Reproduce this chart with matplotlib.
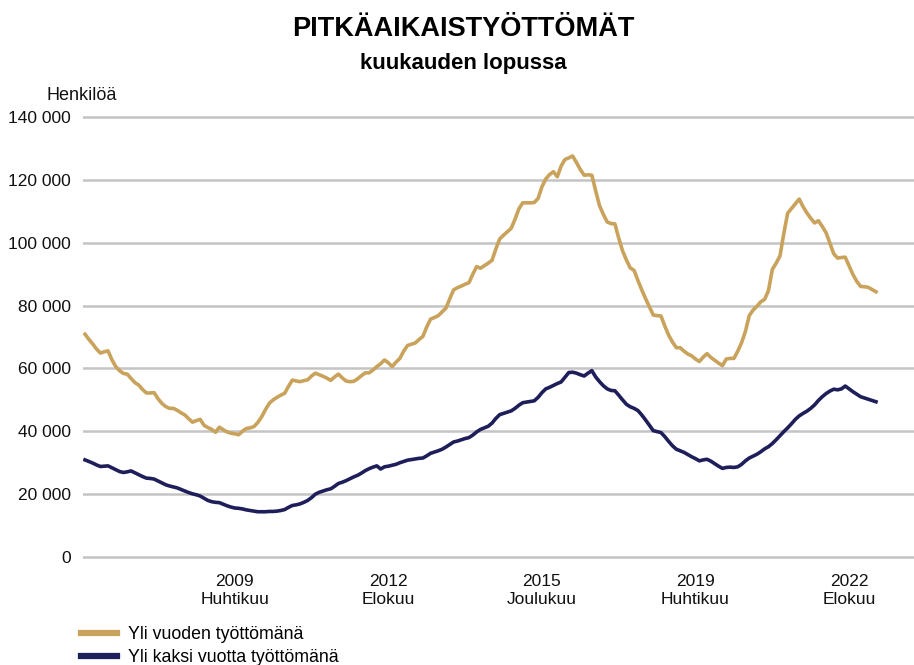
#Pitkäaikaistyöttömät kuukauden lopussa, tammikuu 2006 - maaliskuu 2023
import numpy as np
import pandas as pd
import matplotlib
matplotlib.use('Agg')
import matplotlib.pyplot as plt
from matplotlib.ticker import FuncFormatter

#kuukaudet
months = pd.date_range('2006-01-01', '2023-03-01', freq='MS')

#yli vuoden työttömänä (tuhatta henkilöä)
over_one_year = [
    70.9, 69.3, 67.8, 66.2, 64.9, 65.3, 65.6, 62.8, 60.6, 59.3, 58.4, 58.2,
    56.8, 55.5, 54.7, 53.3, 52.2, 52.2, 52.3, 50.4, 48.9, 47.9, 47.3, 47.3,
    46.7, 45.9, 45.2, 44.0, 42.9, 43.4, 43.8, 41.9, 41.2, 40.6, 39.7, 41.3,
    40.5, 39.8, 39.4, 39.2, 38.9, 40.0, 40.9, 41.1, 41.5, 42.8, 44.6, 46.9,
    48.9, 50.0, 50.8, 51.5, 52.1, 54.3, 56.3, 56.0, 55.8, 56.1, 56.4, 57.6,
    58.5, 58.0, 57.5, 56.9, 56.2, 57.3, 58.2, 57.0, 56.0, 55.8, 55.9, 56.7,
    57.7, 58.6, 58.6, 59.5, 60.6, 61.5, 62.7, 61.8, 60.6, 62.0, 63.2, 65.5,
    67.3, 67.7, 68.1, 69.2, 70.2, 73.2, 75.7, 76.2, 76.8, 78.0, 79.2, 82.2,
    85.0, 85.7, 86.2, 86.8, 87.3, 90.0, 92.4, 91.9, 92.7, 93.5, 94.4, 98.0,
    101.2, 102.4, 103.5, 104.6, 107.5, 110.8, 112.7, 112.7, 112.7, 112.8, 114.1, 117.8,
    120.3, 121.7, 122.6, 121.0, 124.4, 126.5, 127.0, 127.6, 125.5, 123.3, 121.5, 121.6,
    121.5, 116.5, 111.8, 109.0, 106.6, 106.1, 106.0, 101.5, 97.4, 94.5, 92.0, 91.2,
    88.0, 85.0, 82.2, 79.6, 77.0, 76.8, 76.7, 73.5, 70.6, 68.4, 66.6, 66.6,
    65.5, 64.6, 64.0, 63.0, 62.2, 63.6, 64.7, 63.5, 62.6, 61.7, 60.9, 63.0,
    63.2, 63.2, 65.5, 68.2, 71.8, 76.8, 78.6, 79.8, 81.2, 82.0, 84.8, 91.5,
    93.5, 95.8, 103.0, 109.4, 110.9, 112.4, 113.9, 111.5, 109.5, 107.8, 106.3, 107.0,
    105.2, 103.2, 99.8, 96.5, 95.1, 95.3, 95.4, 92.6, 89.9, 87.7, 86.1, 86.0,
    85.8, 85.1, 84.4]

#yli kaksi vuotta työttömänä (tuhatta henkilöä)
over_two_years = [
    30.9, 30.4, 29.9, 29.3, 28.8, 28.9, 29.0, 28.4, 27.8, 27.2, 26.9, 27.1,
    27.4, 26.8, 26.2, 25.6, 25.1, 25.0, 24.8, 24.2, 23.6, 23.0, 22.6, 22.3,
    22.0, 21.5, 21.0, 20.5, 20.1, 19.8, 19.4, 18.7, 18.0, 17.6, 17.4, 17.3,
    16.8, 16.3, 15.9, 15.6, 15.5, 15.3, 15.0, 14.8, 14.6, 14.4, 14.4, 14.4,
    14.5, 14.5, 14.6, 14.8, 15.1, 15.8, 16.4, 16.6, 16.9, 17.4, 18.0, 18.9,
    20.0, 20.6, 21.0, 21.4, 21.7, 22.5, 23.4, 23.8, 24.3, 24.9, 25.5, 26.0,
    26.7, 27.5, 28.1, 28.6, 29.0, 28.0, 28.7, 28.9, 29.2, 29.5, 30.0, 30.4,
    30.8, 31.0, 31.2, 31.4, 31.5, 32.2, 33.0, 33.4, 33.8, 34.3, 35.0, 35.8,
    36.6, 36.9, 37.3, 37.7, 38.0, 38.8, 39.8, 40.6, 41.1, 41.6, 42.6, 44.1,
    45.3, 45.7, 46.1, 46.5, 47.3, 48.3, 49.1, 49.3, 49.5, 49.7, 50.8, 52.3,
    53.5, 54.0, 54.6, 55.2, 55.7, 57.2, 58.7, 58.8, 58.5, 58.0, 57.6, 58.5,
    59.3, 57.3, 55.8, 54.5, 53.5, 53.0, 52.9, 51.5, 50.0, 48.6, 47.8, 47.3,
    46.6, 45.2, 43.6, 41.9, 40.2, 39.9, 39.6, 38.3, 36.8, 35.4, 34.3, 33.8,
    33.3, 32.6, 31.9, 31.3, 30.6, 30.9, 31.1, 30.5, 29.7, 28.9, 28.2, 28.5,
    28.6, 28.5, 28.7, 29.5, 30.6, 31.5, 32.1, 32.7, 33.5, 34.4, 35.1, 36.1,
    37.3, 38.6, 39.9, 41.1, 42.4, 43.8, 44.9, 45.7, 46.4, 47.3, 48.4, 49.8,
    51.0, 52.0, 52.8, 53.4, 53.2, 53.5, 54.4, 53.5, 52.6, 51.8, 51.0, 50.6,
    50.2, 49.8, 49.4]

#x-akselin merkinnät
tick_months = ['2009-04', '2012-08', '2015-12', '2019-04', '2022-08']
tick_labels = ['2009\nHuhtikuu', '2012\nElokuu', '2015\nJoulukuu', '2019\nHuhtikuu', '2022\nElokuu']
series_labels = ['Yli vuoden työttömänä', 'Yli kaksi vuotta työttömänä']

plt.rcParams['font.family'] = ['Liberation Sans', 'DejaVu Sans']

GOLD = '#C9A25B'
NAVY = '#1E1E5A'
GRID = '#C4C4C4'

df = pd.DataFrame({'month': months,
                   'one': np.array(over_one_year) * 1000,
                   'two': np.array(over_two_years) * 1000})
x = np.arange(len(df))

fig = plt.figure(figsize=(9.14, 6.65), dpi=100)
ax = fig.add_axes([83 / 914, 0.1553, 1 - 83 / 914, 0.6758])

ax.plot(x, df['one'], color=GOLD, linewidth=2.6, label=series_labels[0], solid_joinstyle='round')
ax.plot(x, df['two'], color=NAVY, linewidth=2.6, label=series_labels[1], solid_joinstyle='round')

#format axes
ax.set_xlim(-0.52, 215.9)
ax.set_ylim(-1500, 141500)
ax.set_yticks(np.arange(0, 140001, 20000))
ax.yaxis.set_major_formatter(FuncFormatter(lambda v, p: f'{int(v):,}'.replace(',', ' ')))
tick_pos = [df.index[df['month'] == pd.Timestamp(t + '-01')][0] for t in tick_months]
ax.set_xticks(tick_pos)
ax.set_xticklabels(tick_labels)
ax.tick_params(axis='both', length=0, labelsize=12.5, colors='#111111')
ax.tick_params(axis='y', pad=9)
ax.tick_params(axis='x', pad=9)
for s in ax.spines.values():
    s.set_visible(False)
ax.grid(axis='y', color=GRID, linewidth=1.8)
ax.set_axisbelow(True)

#otsikot
fig.text(0.507, 1 - 36.5 / 665, 'PITKÄAIKAISTYÖTTÖMÄT', ha='center', va='baseline', fontsize=19.5, fontweight='bold')
fig.text(0.507, 1 - 69 / 665, 'kuukauden lopussa', ha='center', va='baseline', fontsize=16, fontweight='bold')
fig.text(47 / 914, 1 - 95 / 665, 'Henkilöä', ha='left', va='center', fontsize=13, color='#111111')

leg = fig.legend(loc='upper left', bbox_to_anchor=(81 / 914, 1 - 626 / 665), frameon=False,
                 fontsize=12.8, handlelength=2.05, handletextpad=0.62, labelspacing=0.36,
                 borderpad=0, borderaxespad=0)
for line in leg.get_lines():
    line.set_linewidth(4.5)

fig.savefig('out.png', dpi=100)
